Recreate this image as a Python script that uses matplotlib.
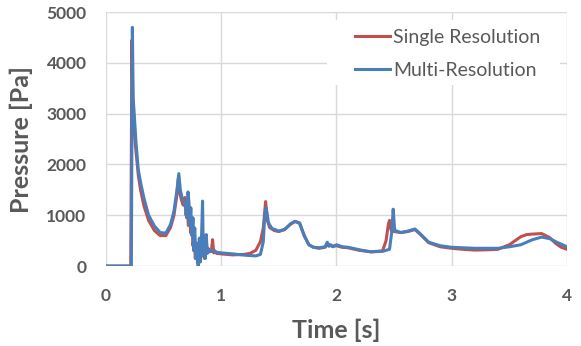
import matplotlib
matplotlib.use("Agg")
import matplotlib.pyplot as plt
from matplotlib.patches import Rectangle

# values
t_single = [0, 0.215, 0.225, 0.232, 0.24, 0.25, 0.265, 0.28, 0.30, 0.33, 0.37, 0.42, 0.47, 0.52,
            0.56, 0.59, 0.615, 0.628, 0.64, 0.655, 0.67, 0.685, 0.695, 0.705, 0.715, 0.725, 0.735,
            0.745, 0.755, 0.765, 0.775, 0.785, 0.795, 0.805, 0.815, 0.825, 0.835, 0.845, 0.855,
            0.865, 0.875, 0.885, 0.9, 0.915, 0.925, 0.935, 0.945, 0.96, 1.0, 1.1, 1.2, 1.25, 1.3,
            1.34, 1.365, 1.385, 1.40, 1.42, 1.46, 1.5, 1.55, 1.6, 1.64, 1.68, 1.72, 1.76, 1.80,
            1.85, 1.9, 1.93, 1.96, 2.0, 2.05, 2.1, 2.2, 2.3, 2.4, 2.43, 2.45, 2.46, 2.475, 2.5,
            2.56, 2.62, 2.68, 2.72, 2.8, 2.9, 3.0, 3.1, 3.2, 3.3, 3.4, 3.5, 3.55, 3.6, 3.65, 3.7,
            3.78, 3.85, 3.9, 3.95, 4.0]
p_single = [0, 0, 4450, 3300, 2900, 2500, 2150, 1800, 1500, 1180, 900, 700, 600, 600,
            760, 1000, 1400, 1720, 1450, 1300, 1200, 1350, 1000, 1250, 800, 1050, 650,
            900, 400, 650, 150, 450, 60, 300, 180, 550, 200, 450, 150,
            500, 250, 350, 280, 300, 520, 260, 300, 250, 240, 220, 230, 250, 310,
            480, 750, 1270, 900, 760, 700, 680, 720, 820, 880, 840, 600, 420, 370,
            350, 370, 430, 390, 400, 370, 360, 310, 280, 300, 500, 820, 900, 700, 680,
            660, 680, 720, 640, 460, 380, 350, 330, 315, 320, 330, 420, 500, 580, 620, 630,
            640, 560, 450, 370, 330]

t_multi = [0, 0.22, 0.229, 0.236, 0.245, 0.26, 0.28, 0.30, 0.33, 0.37, 0.42, 0.47, 0.52, 0.56,
           0.59, 0.615, 0.632, 0.645, 0.66, 0.675, 0.69, 0.70, 0.712, 0.72, 0.728, 0.736, 0.745,
           0.755, 0.762, 0.77, 0.78, 0.79, 0.80, 0.81, 0.82, 0.83, 0.838, 0.845, 0.855, 0.862,
           0.87, 0.88, 0.89, 0.91, 0.93, 0.96, 1.0, 1.1, 1.2, 1.3, 1.34, 1.365, 1.375, 1.39,
           1.41, 1.44, 1.5, 1.55, 1.6, 1.64, 1.68, 1.72, 1.76, 1.80, 1.85, 1.9, 1.92, 1.935,
           1.95, 1.97, 2.0, 2.05, 2.1, 2.2, 2.3, 2.4, 2.46, 2.48, 2.492, 2.505, 2.52, 2.56, 2.62,
           2.68, 2.72, 2.8, 2.9, 3.0, 3.2, 3.4, 3.5, 3.6, 3.7, 3.78, 3.85, 3.92, 4.0]
p_multi = [0, 0, 4700, 3300, 3000, 2450, 1900, 1650, 1330, 1000, 790, 660, 650, 820,
           1080, 1480, 1820, 1500, 1350, 1280, 1150, 950, 1460, 1250, 800, 1150, 600,
           950, 300, 750, 150, 450, 0, 550, 80, 650, 1280, 200, 600, 150,
           620, 250, 330, 290, 300, 270, 260, 240, 215, 200, 230, 480, 900, 1150,
           850, 740, 690, 720, 830, 880, 850, 600, 420, 370, 360, 380, 470, 390,
           420, 380, 420, 380, 370, 320, 280, 290, 330, 680, 1120, 700, 690, 660, 690,
           730, 650, 470, 400, 370, 350, 350, 380, 420, 520, 570, 540, 460, 380]

x_ticks = [0, 1, 2, 3, 4]
y_ticks = [0, 1000, 2000, 3000, 4000, 5000]

grey = "#595959"
plt.rcParams["font.family"] = ["Lato", "DejaVu Sans"]

fig = plt.figure(figsize=(5.81, 3.46), dpi=100)
ax = fig.add_axes([0.1824, 0.231, 0.7935, 0.734])

ax.plot(t_single, p_single, color="#C0504D", lw=2.2, label="Single Resolution", zorder=3)
ax.plot(t_multi, p_multi, color="#4A7EBB", lw=2.2, label="Multi-Resolution", zorder=3)

ax.set_xlim(0, 4)
ax.set_ylim(0, 5000)
ax.set_xticks(x_ticks)
ax.set_yticks(y_ticks)
ax.grid(True, color="#D9D9D9", lw=1)
ax.set_axisbelow(True)
for s in ax.spines.values():
    s.set_visible(False)
ax.tick_params(length=0, labelsize=12.5, labelcolor=grey)
ax.tick_params(axis="y", pad=14)
ax.tick_params(axis="x", pad=16)
for lab in ax.get_xticklabels() + ax.get_yticklabels():
    lab.set_fontweight("bold")

ax.set_xlabel("Time [s]", fontsize=18, fontweight="bold", color=grey, labelpad=10)
ax.set_ylabel("Pressure [Pa]", fontsize=18, fontweight="bold", color=grey, labelpad=10)

# white box behind the legend hides the grid there
ax.add_patch(Rectangle(((327 - 106) / 461, 1 - (85 - 12) / 254), (560 - 327) / 461, 65 / 254,
                       transform=ax.transAxes, facecolor="white", edgecolor="none", zorder=1))

leg = ax.legend(loc="upper left", bbox_to_anchor=((355 - 106) / 461, 1 - (29 - 12) / 254),
                frameon=False, fontsize=14, handlelength=1.8, handletextpad=0.15,
                labelspacing=0.8, borderaxespad=0, borderpad=0)
for txt in leg.get_texts():
    txt.set_color(grey)

fig.savefig("out.png", dpi=100)
